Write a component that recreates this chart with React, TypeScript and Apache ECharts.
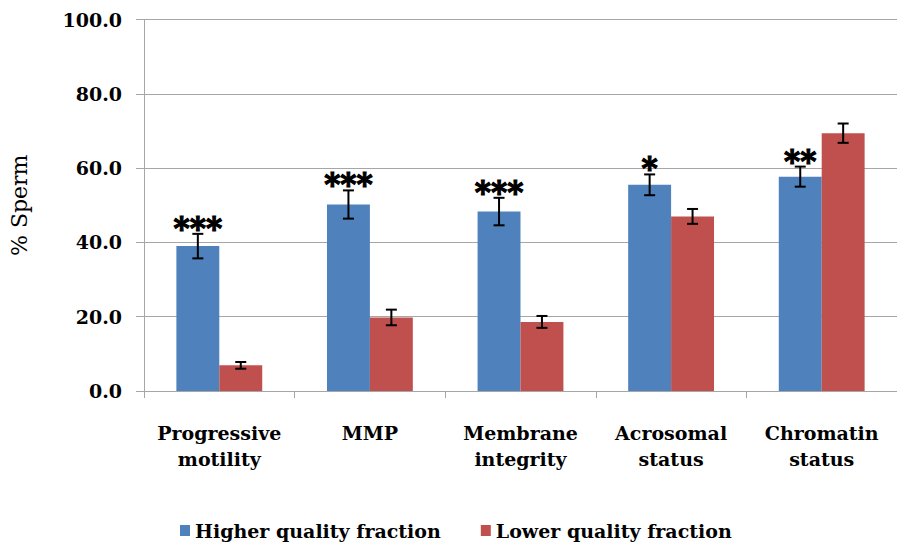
import React, { useEffect, useRef } from "react";
import * as echarts from "echarts";

const categories = [
  "Progressive\nmotility",
  "MMP",
  "Membrane\nintegrity",
  "Acrosomal\nstatus",
  "Chromatin\nstatus",
];
const higherValues = [39.0, 50.2, 48.3, 55.5, 57.7];
const higherErrors = [3.3, 3.8, 3.7, 2.8, 2.7];
const lowerValues = [6.9, 19.8, 18.6, 47.0, 69.4];
const lowerErrors = [0.9, 2.1, 1.6, 2.0, 2.6];
const significance = ["***", "***", "***", "*", "**"];
const yTicks = [0, 20, 40, 60, 80, 100];
const seriesNames = ["Higher quality fraction", "Lower quality fraction"];

const FONT = "DejaVu Serif";

function errorSeries(values: number[], errors: number[], offset: number, stars: string[] | null) {
  return {
    type: "custom",
    z: 5,
    silent: true,
    data: values.map((v, i) => [i, v, errors[i]]),
    encode: { x: 0, y: 1 },
    renderItem: (params: any, api: any) => {
      const idx = api.value(0);
      const v = api.value(1);
      const e = api.value(2);
      const band = api.size([1, 0])[0];
      const cx = api.coord([idx, v])[0] + offset * band;
      const yTop = api.coord([idx, v + e])[1];
      const yBot = api.coord([idx, v - e])[1];
      const cap = 5.5;
      const ls = { stroke: "#000", lineWidth: 2 };
      const children: any[] = [
        { type: "line", shape: { x1: cx, y1: yTop, x2: cx, y2: yBot }, style: ls },
        { type: "line", shape: { x1: cx - cap, y1: yTop, x2: cx + cap, y2: yTop }, style: ls },
        { type: "line", shape: { x1: cx - cap, y1: yBot, x2: cx + cap, y2: yBot }, style: ls },
      ];
      if (stars) {
        children.push({
          type: "text",
          x: cx,
          y: yTop - 6,
          style: {
            text: stars[params.dataIndex],
            fill: "#000",
            stroke: "#000",
            lineWidth: 1.2,
            fontFamily: FONT,
            fontWeight: "bold",
            fontSize: 31,
            align: "center",
            verticalAlign: "middle",
          },
        });
      }
      return { type: "group", children };
    },
  };
}

export default function App() {
  const ref = useRef<HTMLDivElement>(null);
  useEffect(() => {
    document.body.style.margin = "0";
    if (!ref.current) return;
    const chart = echarts.init(ref.current, null, { renderer: "svg" });
    const gray = "#A6A6A6";
    chart.setOption({
      animation: false,
      backgroundColor: "#fff",
      grid: { left: 143, top: 19.5, width: 765, bottom: 155, containLabel: false },
      legend: {
        data: seriesNames,
        left: 175,
        top: 516,
        icon: "rect",
        itemWidth: 10,
        itemHeight: 11,
        itemGap: 40,
        textStyle: { fontFamily: FONT, fontWeight: "bold", fontSize: 19, color: "#000" },
      },
      xAxis: {
        type: "category",
        data: categories,
        axisLine: { lineStyle: { color: gray, width: 1 } },
        axisTick: { show: true, length: 7, lineStyle: { color: gray } },
        axisLabel: {
          interval: 0,
          margin: 29,
          fontFamily: FONT,
          fontWeight: "bold",
          fontSize: 19,
          lineHeight: 26,
          color: "#000",
        },
      },
      yAxis: {
        type: "value",
        min: yTicks[0],
        max: yTicks[yTicks.length - 1],
        interval: 20,
        name: "% Sperm",
        nameLocation: "middle",
        nameGap: 114,
        nameRotate: 90,
        nameTextStyle: { fontFamily: FONT, fontSize: 22, color: "#000" },
        axisLine: { show: true, lineStyle: { color: gray, width: 1 } },
        axisTick: { show: true, length: 8, lineStyle: { color: gray } },
        splitLine: { lineStyle: { color: gray, width: 1 } },
        axisLabel: {
          margin: 22,
          formatter: (v: number) => v.toFixed(1),
          fontFamily: FONT,
          fontWeight: "bold",
          fontSize: 19,
          color: "#000",
        },
      },
      series: [
        {
          name: seriesNames[0],
          type: "bar",
          data: higherValues,
          barGap: "0%",
          barCategoryGap: "43%",
          itemStyle: { color: "#4F81BD" },
        },
        {
          name: seriesNames[1],
          type: "bar",
          data: lowerValues,
          barGap: "0%",
          barCategoryGap: "43%",
          itemStyle: { color: "#C0504D" },
        },
        errorSeries(higherValues, higherErrors, -0.1425, significance),
        errorSeries(lowerValues, lowerErrors, 0.1425, null),
      ],
    });
    return () => chart.dispose();
  }, []);
  return <div ref={ref} style={{ width: 897, height: 546 }} />;
}
